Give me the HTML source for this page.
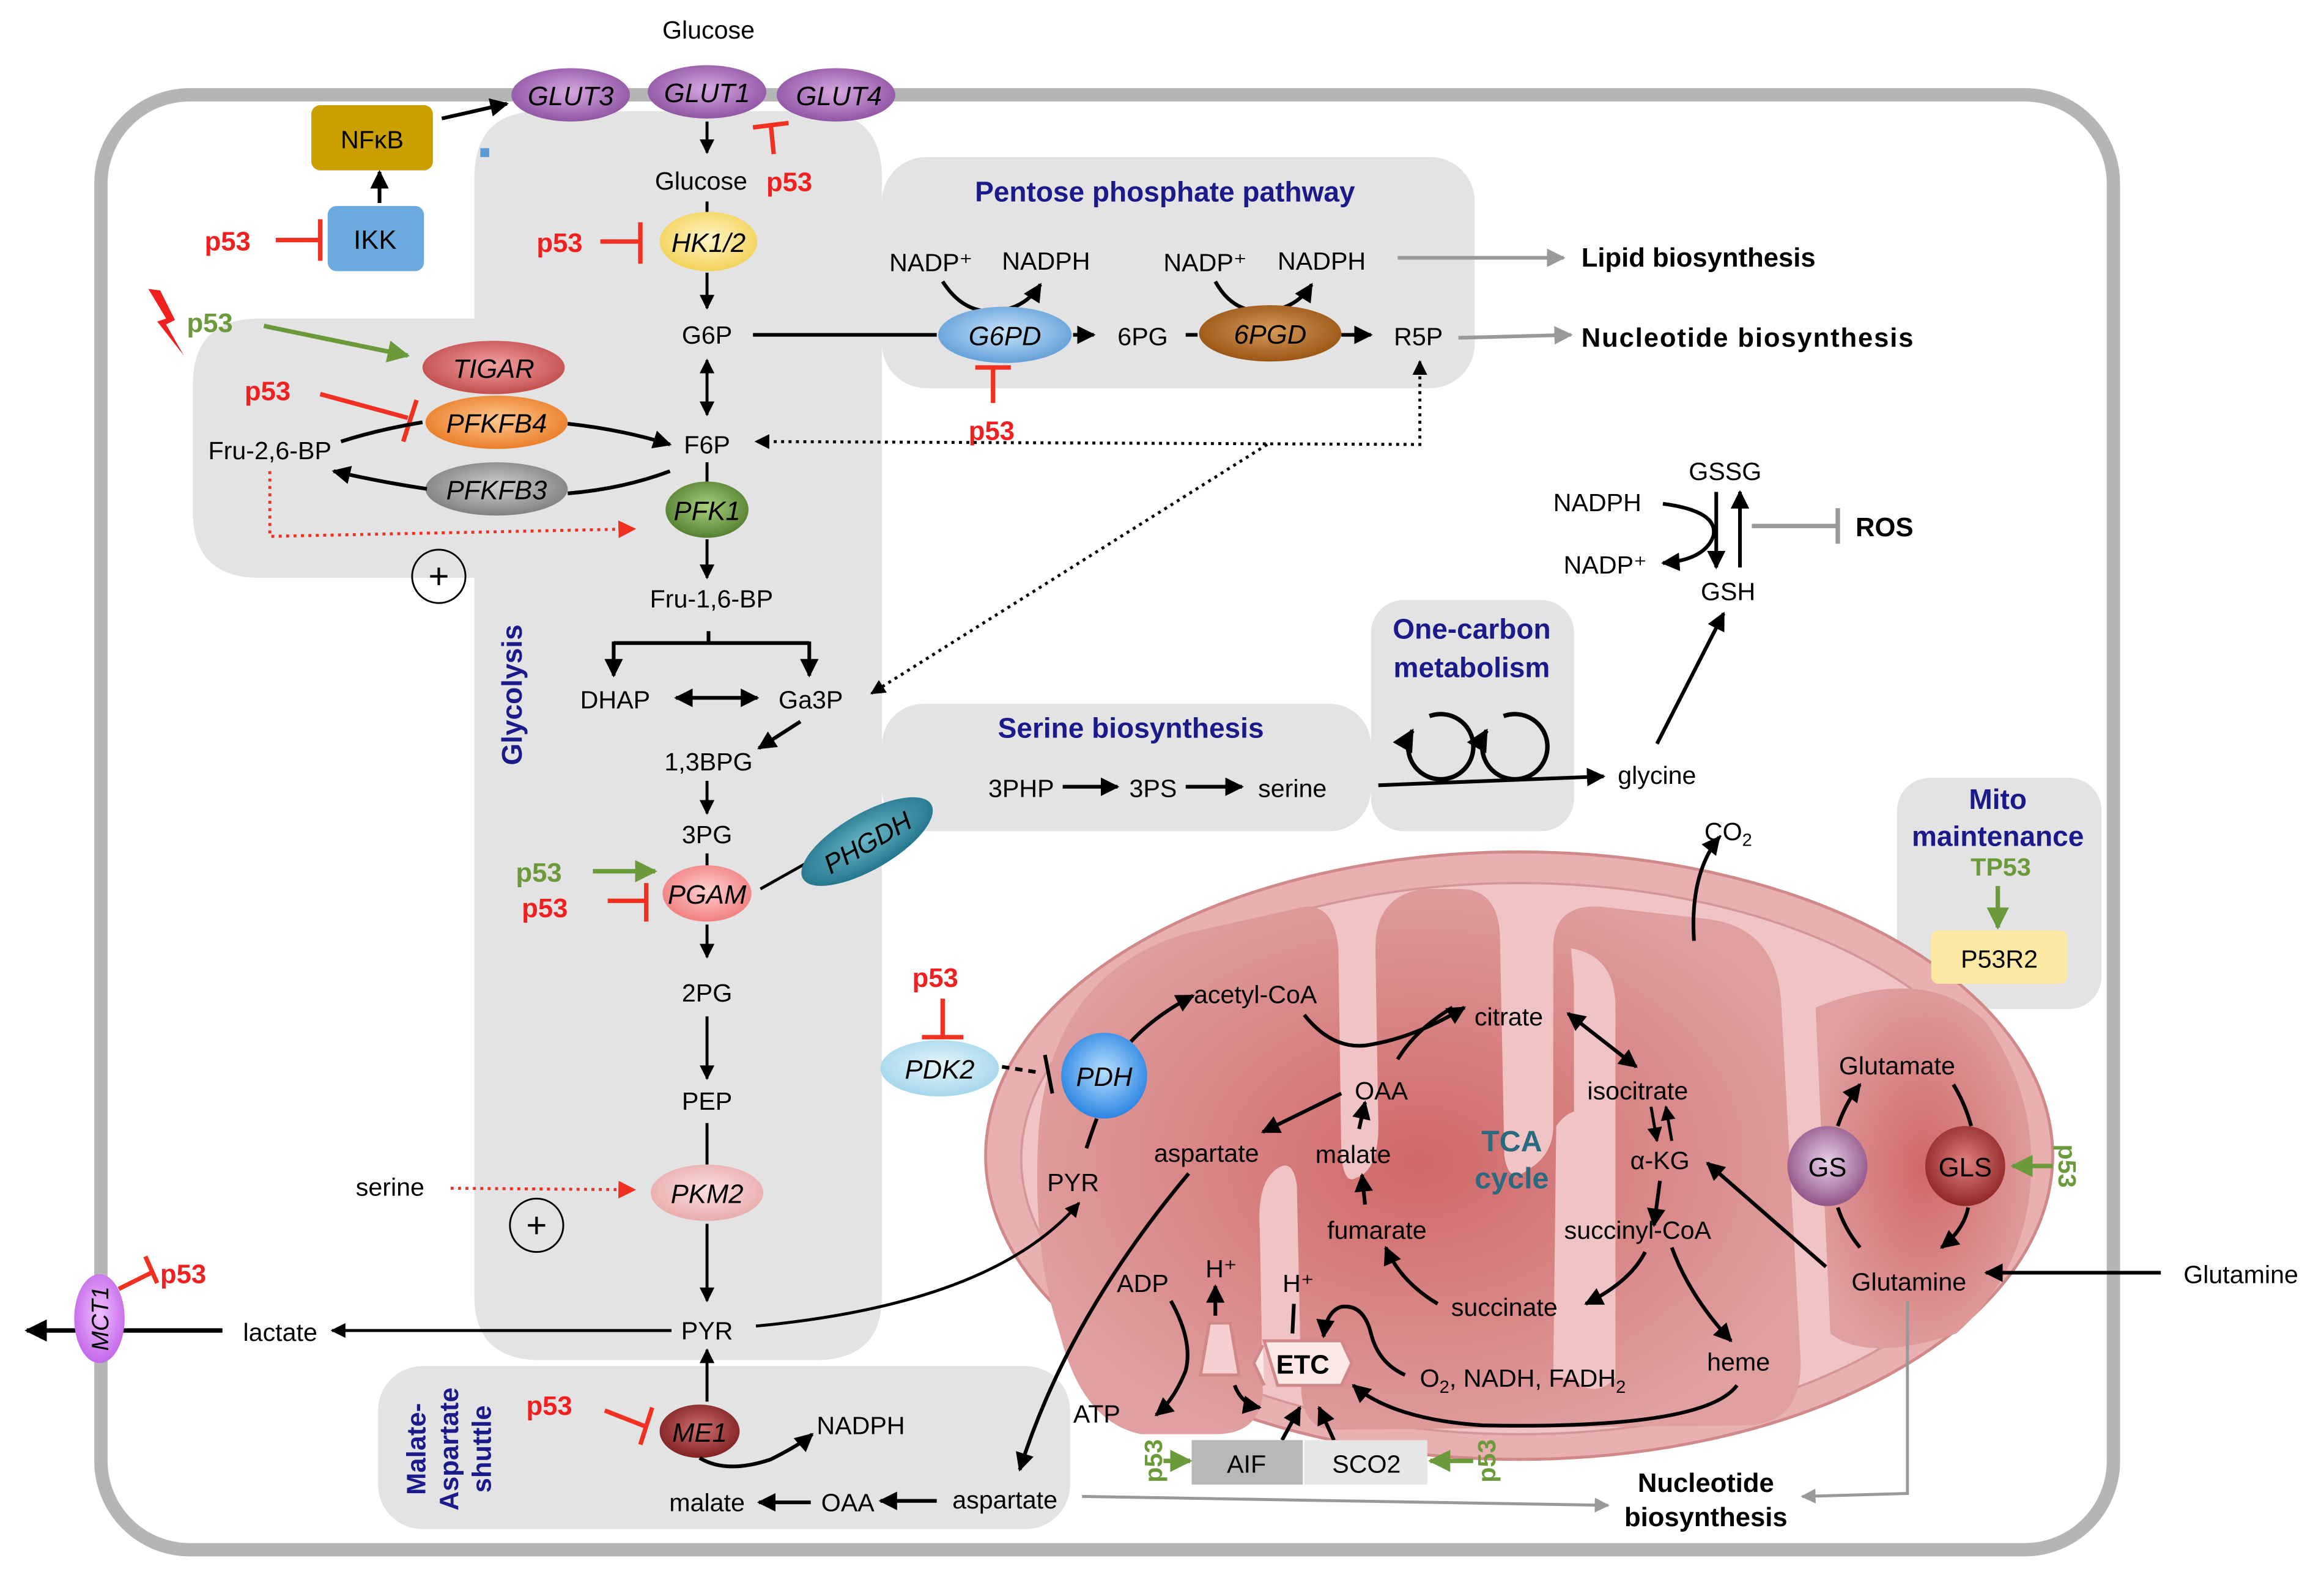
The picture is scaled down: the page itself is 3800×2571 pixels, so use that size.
<!DOCTYPE html>
<html><head><meta charset="utf-8"><style>
html,body{margin:0;padding:0;background:#fff}
svg{display:block}
text{font-family:"Liberation Sans",sans-serif}
</style></head><body>
<svg width="3800" height="2571" viewBox="0 0 1568 1061" xmlns="http://www.w3.org/2000/svg">
<defs>
<marker id="ab" viewBox="0 0 10 10" refX="9" refY="5" markerWidth="5" markerHeight="5" orient="auto-start-reverse"><path d="M0,0L10,5L0,10z" fill="#000"/></marker>
<marker id="ag" viewBox="0 0 10 10" refX="9" refY="5" markerWidth="5" markerHeight="5" orient="auto-start-reverse"><path d="M0,0L10,5L0,10z" fill="#999"/></marker>
<marker id="agr" viewBox="0 0 10 10" refX="9" refY="5" markerWidth="5" markerHeight="5" orient="auto"><path d="M0,0L10,5L0,10z" fill="#6a9a3a"/></marker>
<marker id="ar" viewBox="0 0 10 10" refX="9" refY="5" markerWidth="6" markerHeight="6" orient="auto"><path d="M0,0L10,5L0,10z" fill="#f03020"/></marker>
<radialGradient id="gP" cx="50%" cy="45%" r="60%"><stop offset="0" stop-color="#d6a8e0"/><stop offset="1" stop-color="#8a4e9e"/></radialGradient>
<radialGradient id="gY" cx="50%" cy="45%" r="60%"><stop offset="0" stop-color="#fff6c8"/><stop offset="1" stop-color="#f2cf50"/></radialGradient>
<radialGradient id="gB" cx="50%" cy="45%" r="60%"><stop offset="0" stop-color="#c8e4fa"/><stop offset="1" stop-color="#5b9ad6"/></radialGradient>
<radialGradient id="gBr" cx="50%" cy="45%" r="60%"><stop offset="0" stop-color="#d89a5a"/><stop offset="1" stop-color="#95500f"/></radialGradient>
<radialGradient id="gT" cx="50%" cy="45%" r="60%"><stop offset="0" stop-color="#f0a0a0"/><stop offset="1" stop-color="#c04848"/></radialGradient>
<radialGradient id="gO" cx="50%" cy="45%" r="60%"><stop offset="0" stop-color="#ffc890"/><stop offset="1" stop-color="#e87820"/></radialGradient>
<radialGradient id="gGr" cx="50%" cy="45%" r="60%"><stop offset="0" stop-color="#d0d0d0"/><stop offset="1" stop-color="#7a7a7a"/></radialGradient>
<radialGradient id="gG" cx="50%" cy="45%" r="60%"><stop offset="0" stop-color="#a8d080"/><stop offset="1" stop-color="#4e7a2a"/></radialGradient>
<radialGradient id="gPk" cx="50%" cy="45%" r="60%"><stop offset="0" stop-color="#ffd0d0"/><stop offset="1" stop-color="#f07878"/></radialGradient>
<radialGradient id="gPk2" cx="50%" cy="45%" r="60%"><stop offset="0" stop-color="#fbe0e0"/><stop offset="1" stop-color="#e8a8a8"/></radialGradient>
<radialGradient id="gTe" cx="50%" cy="45%" r="60%"><stop offset="0" stop-color="#6ab8c8"/><stop offset="1" stop-color="#1e7088"/></radialGradient>
<radialGradient id="gLB" cx="50%" cy="45%" r="60%"><stop offset="0" stop-color="#e8f6fc"/><stop offset="1" stop-color="#9ed4ea"/></radialGradient>
<radialGradient id="gPDH" cx="50%" cy="45%" r="60%"><stop offset="0" stop-color="#b8e0ff"/><stop offset="1" stop-color="#1f7de0"/></radialGradient>
<radialGradient id="gGS" cx="50%" cy="45%" r="60%"><stop offset="0" stop-color="#e8d0e8"/><stop offset="1" stop-color="#8a4a80"/></radialGradient>
<radialGradient id="gGLS" cx="50%" cy="45%" r="60%"><stop offset="0" stop-color="#e08080"/><stop offset="1" stop-color="#8a2020"/></radialGradient>
<radialGradient id="gME" cx="50%" cy="45%" r="60%"><stop offset="0" stop-color="#d07070"/><stop offset="1" stop-color="#7a1c1c"/></radialGradient>
<radialGradient id="gMCT" cx="50%" cy="45%" r="60%"><stop offset="0" stop-color="#f0c0ff"/><stop offset="1" stop-color="#c060e8"/></radialGradient>
<radialGradient id="gMito" cx="50%" cy="50%" r="55%"><stop offset="0" stop-color="#d06868"/><stop offset="1" stop-color="#e0a0a0"/></radialGradient>
</defs>

<!-- cell -->
<rect x="68" y="64" width="1358" height="982" rx="60" fill="none" stroke="#b5b5b5" stroke-width="9"/>

<!-- panels -->
<path d="M320,120 Q320,75 365,75 L550,75 Q595,75 595,120 L595,875 Q595,918 550,918 L365,918 Q320,918 320,875 Z" fill="#e3e3e3"/>
<path d="M175,215 L320,215 L320,390 L175,390 Q130,390 130,345 L130,260 Q130,215 175,215 Z" fill="#e3e3e3"/>
<rect x="595" y="106" width="400" height="156" rx="30" fill="#e3e3e3"/>
<rect x="595" y="475" width="330" height="86" rx="28" fill="#e3e3e3"/>
<rect x="925" y="405" width="137" height="156" rx="22" fill="#e3e3e3"/>
<rect x="1280" y="525" width="138" height="156" rx="22" fill="#e3e3e3"/>
<rect x="255" y="922" width="467" height="110" rx="30" fill="#e3e3e3"/>

<!-- mitochondrion -->
<ellipse cx="1025" cy="780" rx="360" ry="205" fill="#e8b0b0" stroke="#d08888" stroke-width="2"/>
<ellipse cx="1025" cy="782" rx="336" ry="186" fill="#f0c4c4" stroke="#d49696" stroke-width="1.5"/>
<path d="M700,780 Q702,660 800,630 L880,612 Q900,610 903,640 L905,780 Q907,800 915,795 Q930,790 930,760 L928,640 Q928,605 960,600 L985,600 Q1010,600 1012,630 L1015,780 Q1018,800 1030,790 Q1048,780 1048,760 L1048,640 Q1048,610 1080,612 L1150,620 Q1200,625 1202,680 L1215,920 Q1215,960 1180,962 L900,965 Q880,965 878,940 L875,800 Q872,780 860,790 Q848,800 850,830 L852,940 Q850,968 820,968 L770,968 Q730,960 715,900 Q698,850 700,780 Z" fill="url(#gMito)"/>
<path d="M1060,640 Q1090,645 1090,680 L1090,930 Q1075,945 1062,930 L1062,665 Z" fill="#f0c4c4"/>
<path d="M1225,680 Q1300,650 1340,690 Q1375,740 1370,800 Q1365,860 1320,900 Q1260,920 1235,900 Z" fill="url(#gMito)"/>
<path d="M1050,760 Q1065,740 1078,760 L1080,930 L1048,930 Z" fill="#f0c4c4"/>

<!-- ====== Glucose / GLUT ====== -->
<text x="478" y="26" font-size="17" text-anchor="middle">Glucose</text>
<ellipse cx="385" cy="64" rx="40" ry="18" fill="url(#gP)"/><text x="385" y="71" font-size="18" font-style="italic" text-anchor="middle">GLUT3</text>
<ellipse cx="477" cy="62" rx="40" ry="18" fill="url(#gP)"/><text x="477" y="69" font-size="18" font-style="italic" text-anchor="middle">GLUT1</text>
<ellipse cx="564" cy="64" rx="40" ry="18" fill="url(#gP)"/><text x="566" y="71" font-size="18" font-style="italic" text-anchor="middle">GLUT4</text>
<line x1="477" y1="82" x2="477" y2="103" stroke="#000" stroke-width="2" marker-end="url(#ab)"/>
<path d="M522,104 L520,84 M508,86 L532,83" stroke="#f03020" stroke-width="3" fill="none"/>
<text x="517" y="129" font-size="18" font-weight="bold" fill="#f02020">p53</text>
<text x="473" y="128" font-size="17" text-anchor="middle">Glucose</text>
<line x1="477" y1="136" x2="477" y2="146" stroke="#000" stroke-width="2"/>

<!-- NFkB / IKK -->
<rect x="210" y="71" width="82" height="44" rx="6" fill="#c9a000"/><text x="251" y="100" font-size="17" text-anchor="middle">NFκB</text>
<line x1="298" y1="80" x2="342" y2="70" stroke="#000" stroke-width="2.5" marker-end="url(#ab)"/>
<rect x="324" y="100" width="6" height="6" fill="#5b9ad6"/>
<rect x="221" y="139" width="65" height="44" rx="6" fill="#6aaade"/><text x="253" y="168" font-size="18" text-anchor="middle">IKK</text>
<line x1="256" y1="137" x2="256" y2="116" stroke="#000" stroke-width="2.5" marker-end="url(#ab)"/>
<text x="138" y="169" font-size="18" font-weight="bold" fill="#f02020">p53</text>
<path d="M186,162 L216,162 M216,148 L216,176" stroke="#f03020" stroke-width="3" fill="none"/>

<!-- HK -->
<text x="362" y="170" font-size="18" font-weight="bold" fill="#f02020">p53</text>
<path d="M405,163 L432,163 M432,150 L432,178" stroke="#f03020" stroke-width="3" fill="none"/>
<ellipse cx="478" cy="163" rx="33" ry="20" fill="url(#gY)"/><text x="478" y="170" font-size="18" font-style="italic" text-anchor="middle">HK1/2</text>
<line x1="477" y1="184" x2="477" y2="208" stroke="#000" stroke-width="2" marker-end="url(#ab)"/>
<text x="477" y="232" font-size="17" text-anchor="middle">G6P</text>
<line x1="477" y1="243" x2="477" y2="280" stroke="#000" stroke-width="2" marker-end="url(#ab)" marker-start="url(#ab)"/>
<text x="477" y="306" font-size="17" text-anchor="middle">F6P</text>

<!-- TIGAR etc -->
<path d="M100,195 L112,215 L106,217 L124,240 L112,219 L118,216 L108,196 Z" fill="#f02020"/>
<text x="126" y="224" font-size="18" font-weight="bold" fill="#6a9a3a">p53</text>
<line x1="178" y1="220" x2="275" y2="240" stroke="#6a9a3a" stroke-width="3" marker-end="url(#agr)"/>
<ellipse cx="333" cy="248" rx="48" ry="18" fill="url(#gT)"/><text x="333" y="255" font-size="18" font-style="italic" text-anchor="middle">TIGAR</text>
<text x="165" y="270" font-size="18" font-weight="bold" fill="#f02020">p53</text>
<path d="M216,266 L275,282 M281,270 L272,298" stroke="#f03020" stroke-width="3" fill="none"/>
<ellipse cx="335" cy="285" rx="48" ry="18" fill="url(#gO)"/><text x="335" y="292" font-size="18" font-style="italic" text-anchor="middle">PFKFB4</text>
<ellipse cx="335" cy="330" rx="48" ry="18" fill="url(#gGr)"/><text x="335" y="337" font-size="18" font-style="italic" text-anchor="middle">PFKFB3</text>
<text x="182" y="310" font-size="17" text-anchor="middle">Fru-2,6-BP</text>
<path d="M230,298 Q255,290 285,285" stroke="#000" stroke-width="2.5" fill="none"/>
<path d="M383,286 Q420,290 452,300" stroke="#000" stroke-width="2.5" fill="none" marker-end="url(#ab)"/>
<path d="M452,318 Q420,330 383,333" stroke="#000" stroke-width="2.5" fill="none"/>
<path d="M288,330 Q255,325 225,318" stroke="#000" stroke-width="2.5" fill="none" marker-end="url(#ab)"/>
<path d="M182,318 L182,362 L428,357" stroke="#f03020" stroke-width="2" stroke-dasharray="2,3" fill="none" marker-end="url(#ar)"/>
<circle cx="296" cy="389" r="18" fill="none" stroke="#000" stroke-width="1.2"/><text x="296" y="397" font-size="24" text-anchor="middle">+</text>
<line x1="477" y1="312" x2="477" y2="326" stroke="#000" stroke-width="2"/>
<ellipse cx="477" cy="344" rx="28" ry="19" fill="url(#gG)"/><text x="477" y="351" font-size="18" font-style="italic" text-anchor="middle">PFK1</text>
<line x1="477" y1="364" x2="477" y2="390" stroke="#000" stroke-width="2" marker-end="url(#ab)"/>
<text x="480" y="410" font-size="17" text-anchor="middle">Fru-1,6-BP</text>
<line x1="478" y1="426" x2="478" y2="434" stroke="#000" stroke-width="2.5"/>
<path d="M414,434 L546,434" stroke="#000" stroke-width="2.5" fill="none"/>
<line x1="414" y1="433" x2="414" y2="456" stroke="#000" stroke-width="2.5" marker-end="url(#ab)"/>
<line x1="546" y1="433" x2="546" y2="456" stroke="#000" stroke-width="2.5" marker-end="url(#ab)"/>
<text x="415" y="478" font-size="17" text-anchor="middle">DHAP</text>
<text x="547" y="478" font-size="17" text-anchor="middle">Ga3P</text>
<line x1="456" y1="471" x2="511" y2="471" stroke="#000" stroke-width="2.5" marker-start="url(#ab)" marker-end="url(#ab)"/>
<text x="343" y="460" font-size="19" font-weight="bold" fill="#1a1a8a" transform="rotate(-90 352 460)" text-anchor="middle">Glycolysis</text>
<line x1="540" y1="487" x2="512" y2="505" stroke="#000" stroke-width="2.5" marker-end="url(#ab)"/>
<text x="478" y="520" font-size="17" text-anchor="middle">1,3BPG</text>
<line x1="477" y1="527" x2="477" y2="549" stroke="#000" stroke-width="2" marker-end="url(#ab)"/>
<text x="477" y="569" font-size="17" text-anchor="middle">3PG</text>
<line x1="477" y1="576" x2="477" y2="586" stroke="#000" stroke-width="2"/>
<text x="348" y="595" font-size="18" font-weight="bold" fill="#6a9a3a">p53</text>
<line x1="400" y1="588" x2="442" y2="588" stroke="#6a9a3a" stroke-width="3" marker-end="url(#agr)"/>
<text x="352" y="619" font-size="18" font-weight="bold" fill="#f02020">p53</text>
<path d="M410,608 L436,608 M436,596 L436,622" stroke="#f03020" stroke-width="3" fill="none"/>
<ellipse cx="477" cy="603" rx="30" ry="19" fill="url(#gPk)"/><text x="477" y="610" font-size="18" font-style="italic" text-anchor="middle">PGAM</text>
<line x1="477" y1="624" x2="477" y2="646" stroke="#000" stroke-width="2" marker-end="url(#ab)"/>
<text x="477" y="676" font-size="17" text-anchor="middle">2PG</text>
<line x1="477" y1="686" x2="477" y2="728" stroke="#000" stroke-width="2" marker-end="url(#ab)"/>
<text x="477" y="749" font-size="17" text-anchor="middle">PEP</text>
<line x1="477" y1="758" x2="477" y2="786" stroke="#000" stroke-width="2"/>
<text x="240" y="807" font-size="17">serine</text>
<line x1="304" y1="802" x2="428" y2="803" stroke="#f03020" stroke-width="2" stroke-dasharray="2,3" marker-end="url(#ar)"/>
<ellipse cx="477" cy="805" rx="38" ry="19" fill="url(#gPk2)"/><text x="477" y="812" font-size="18" font-style="italic" text-anchor="middle">PKM2</text>
<circle cx="362" cy="827" r="18" fill="none" stroke="#000" stroke-width="1.2"/><text x="362" y="835" font-size="24" text-anchor="middle">+</text>
<line x1="477" y1="826" x2="477" y2="878" stroke="#000" stroke-width="2" marker-end="url(#ab)"/>
<text x="477" y="904" font-size="17" text-anchor="middle">PYR</text>
<line x1="453" y1="898" x2="224" y2="898" stroke="#000" stroke-width="2" marker-end="url(#ab)"/>
<text x="189" y="905" font-size="17" text-anchor="middle">lactate</text>
<line x1="150" y1="898" x2="18" y2="898" stroke="#000" stroke-width="3" marker-end="url(#ab)"/>
<ellipse cx="67" cy="890" rx="17" ry="30" fill="url(#gMCT)"/><text x="67" y="890" font-size="16" font-style="italic" text-anchor="middle" transform="rotate(-90 67 890)" dy="6">MCT1</text>
<path d="M80,870 L104,858 M98,848 L106,866" stroke="#f03020" stroke-width="3" fill="none"/>
<text x="108" y="866" font-size="18" font-weight="bold" fill="#f02020">p53</text>
<path d="M510,895 Q670,880 728,812" stroke="#000" stroke-width="2" fill="none" marker-end="url(#ab)"/>
<line x1="477" y1="946" x2="477" y2="911" stroke="#000" stroke-width="2" marker-end="url(#ab)"/>

<!-- Malate-Aspartate -->
<text x="287" y="978" font-size="18" font-weight="bold" fill="#1a1a8a" text-anchor="middle" transform="rotate(-90 287 978)">Malate-</text>
<text x="309" y="978" font-size="18" font-weight="bold" fill="#1a1a8a" text-anchor="middle" transform="rotate(-90 309 978)">Aspartate</text>
<text x="331" y="978" font-size="18" font-weight="bold" fill="#1a1a8a" text-anchor="middle" transform="rotate(-90 331 978)">shuttle</text>
<text x="355" y="955" font-size="18" font-weight="bold" fill="#f02020">p53</text>
<path d="M408,952 L436,963 M440,950 L432,975" stroke="#f03020" stroke-width="3" fill="none"/>
<ellipse cx="472" cy="966" rx="27" ry="18" fill="url(#gME)"/><text x="472" y="973" font-size="18" font-style="italic" text-anchor="middle">ME1</text>
<path d="M472,984 Q490,995 520,985 Q540,975 548,968" stroke="#000" stroke-width="2.5" fill="none" marker-end="url(#ab)"/>
<text x="551" y="968" font-size="17">NADPH</text>
<text x="477" y="1020" font-size="17" text-anchor="middle">malate</text>
<line x1="547" y1="1014" x2="512" y2="1014" stroke="#000" stroke-width="2.5" marker-end="url(#ab)"/>
<text x="572" y="1020" font-size="17" text-anchor="middle">OAA</text>
<line x1="632" y1="1013" x2="594" y2="1013" stroke="#000" stroke-width="2.5" marker-end="url(#ab)"/>
<text x="678" y="1018" font-size="17" text-anchor="middle">aspartate</text>
<line x1="730" y1="1010" x2="1085" y2="1016" stroke="#999" stroke-width="2" marker-end="url(#ag)"/>

<!-- PPP -->
<text x="786" y="136" font-size="19" font-weight="bold" fill="#1a1a8a" text-anchor="middle">Pentose phosphate pathway</text>
<line x1="508" y1="226" x2="632" y2="226" stroke="#000" stroke-width="2.5"/>
<text x="600" y="183" font-size="17">NADP⁺</text><text x="676" y="182" font-size="17">NADPH</text>
<path d="M636,190 Q650,212 672,210 Q692,208 702,192" stroke="#000" stroke-width="2.5" fill="none" marker-end="url(#ab)"/>
<ellipse cx="678" cy="226" rx="45" ry="19" fill="url(#gB)"/><text x="678" y="233" font-size="18" font-style="italic" text-anchor="middle">G6PD</text>
<line x1="724" y1="226" x2="738" y2="226" stroke="#000" stroke-width="2.5" marker-end="url(#ab)"/>
<path d="M670,272 L670,248 M658,248 L682,248" stroke="#f03020" stroke-width="3" fill="none"/>
<text x="669" y="297" font-size="18" font-weight="bold" fill="#f02020" text-anchor="middle">p53</text>
<text x="771" y="233" font-size="17" text-anchor="middle">6PG</text>
<line x1="800" y1="226" x2="808" y2="226" stroke="#000" stroke-width="2.5"/>
<text x="785" y="183" font-size="17">NADP⁺</text><text x="862" y="182" font-size="17">NADPH</text>
<path d="M820,190 Q832,212 855,210 Q875,208 885,192" stroke="#000" stroke-width="2.5" fill="none" marker-end="url(#ab)"/>
<ellipse cx="857" cy="225" rx="48" ry="19" fill="url(#gBr)"/><text x="857" y="232" font-size="18" font-style="italic" text-anchor="middle">6PGD</text>
<line x1="905" y1="226" x2="925" y2="226" stroke="#000" stroke-width="2.5" marker-end="url(#ab)"/>
<text x="957" y="233" font-size="17" text-anchor="middle">R5P</text>
<line x1="943" y1="174" x2="1055" y2="174" stroke="#999" stroke-width="2.5" marker-end="url(#ag)"/>
<text x="1067" y="180" font-size="18" font-weight="bold">Lipid biosynthesis</text>
<line x1="984" y1="228" x2="1060" y2="226" stroke="#999" stroke-width="2.5" marker-end="url(#ag)"/>
<text x="1067" y="234" font-size="18" font-weight="bold" textLength="224">Nucleotide biosynthesis</text>
<path d="M958,244 L958,300 L510,298" stroke="#000" stroke-width="2" stroke-dasharray="2,3" fill="none" marker-end="url(#ab)" marker-start="url(#ab)"/>
<line x1="855" y1="300" x2="588" y2="468" stroke="#000" stroke-width="2" stroke-dasharray="2,3" marker-end="url(#ab)"/>

<!-- Serine -->
<text x="763" y="498" font-size="19" font-weight="bold" fill="#1a1a8a" text-anchor="middle">Serine biosynthesis</text>
<line x1="513" y1="600" x2="545" y2="582" stroke="#000" stroke-width="2"/>
<ellipse cx="585" cy="568" rx="50" ry="19" fill="url(#gTe)" transform="rotate(-30 585 568)"/>
<text x="585" y="575" font-size="18" font-style="italic" text-anchor="middle" transform="rotate(-30 585 568)">PHGDH</text>
<text x="689" y="538" font-size="17" text-anchor="middle">3PHP</text>
<line x1="717" y1="531" x2="754" y2="531" stroke="#000" stroke-width="2.5" marker-end="url(#ab)"/>
<text x="778" y="538" font-size="17" text-anchor="middle">3PS</text>
<line x1="800" y1="531" x2="838" y2="531" stroke="#000" stroke-width="2.5" marker-end="url(#ab)"/>
<text x="872" y="538" font-size="17" text-anchor="middle">serine</text>
<text x="993" y="431" font-size="19" font-weight="bold" fill="#1a1a8a" text-anchor="middle">One-carbon</text>
<text x="993" y="457" font-size="19" font-weight="bold" fill="#1a1a8a" text-anchor="middle">metabolism</text>
<path d="M964.5,483.3 A22,22 0 1 1 953,493" fill="none" stroke="#000" stroke-width="3" marker-end="url(#ab)"/>
<path d="M1014.5,483.3 A22,22 0 1 1 1003,493" fill="none" stroke="#000" stroke-width="3" marker-end="url(#ab)"/>
<line x1="930" y1="530" x2="1082" y2="524" stroke="#000" stroke-width="2.5" marker-end="url(#ab)"/>
<text x="1118" y="529" font-size="17" text-anchor="middle">glycine</text>
<line x1="1118" y1="502" x2="1163" y2="414" stroke="#000" stroke-width="2.5" marker-end="url(#ab)"/>

<!-- GSH -->
<text x="1164" y="324" font-size="17" text-anchor="middle">GSSG</text>
<text x="1166" y="405" font-size="17" text-anchor="middle">GSH</text>
<line x1="1158" y1="332" x2="1158" y2="383" stroke="#000" stroke-width="2.5" marker-end="url(#ab)"/>
<line x1="1174" y1="383" x2="1174" y2="332" stroke="#000" stroke-width="2.5" marker-end="url(#ab)"/>
<text x="1048" y="345" font-size="17">NADPH</text>
<text x="1055" y="387" font-size="17">NADP⁺</text>
<path d="M1122,340 Q1160,345 1156,362 Q1150,378 1122,380" stroke="#000" stroke-width="2.5" fill="none" marker-end="url(#ab)"/>
<path d="M1182,355 L1240,355 M1240,343 L1240,367" stroke="#999" stroke-width="3" fill="none"/>
<text x="1252" y="362" font-size="18" font-weight="bold">ROS</text>

<!-- Mito maintenance -->
<text x="1348" y="546" font-size="19" font-weight="bold" fill="#1a1a8a" text-anchor="middle">Mito</text>
<text x="1348" y="571" font-size="19" font-weight="bold" fill="#1a1a8a" text-anchor="middle">maintenance</text>
<text x="1350" y="591" font-size="17" font-weight="bold" fill="#6a9a3a" text-anchor="middle">TP53</text>
<line x1="1348" y1="598" x2="1348" y2="626" stroke="#6a9a3a" stroke-width="3" marker-end="url(#agr)"/>
<rect x="1303" y="628" width="92" height="36" rx="5" fill="#fde9a4"/>
<text x="1349" y="653" font-size="17" text-anchor="middle">P53R2</text>

<!-- CO2 -->
<path d="M1143,635 Q1140,590 1160,565" stroke="#000" stroke-width="2.5" fill="none" marker-end="url(#ab)"/>
<text x="1150" y="567" font-size="17">CO<tspan font-size="12" dy="4">2</tspan></text>

<!-- PDK2/PDH -->
<text x="631" y="666" font-size="18" font-weight="bold" fill="#f02020" text-anchor="middle">p53</text>
<path d="M636,674 L636,700 M622,700 L650,700" stroke="#f03020" stroke-width="3" fill="none"/>
<ellipse cx="634" cy="721" rx="40" ry="19" fill="url(#gLB)"/><text x="634" y="728" font-size="18" font-style="italic" text-anchor="middle">PDK2</text>
<path d="M676,720 L702,724" stroke="#000" stroke-width="2.5" stroke-dasharray="5,4"/>
<line x1="705" y1="712" x2="710" y2="738" stroke="#000" stroke-width="2.5"/>
<circle cx="745" cy="726" r="29" fill="url(#gPDH)"/><text x="745" y="733" font-size="18" font-style="italic" text-anchor="middle">PDH</text>
<path d="M763,703 Q780,685 805,672" stroke="#000" stroke-width="2.5" fill="none" marker-end="url(#ab)"/>
<path d="M733,775 Q738,760 740,755" stroke="#000" stroke-width="2.5" fill="none"/>
<text x="724" y="804" font-size="17" text-anchor="middle">PYR</text>

<!-- TCA -->
<text x="847" y="677" font-size="17" text-anchor="middle">acetyl-CoA</text>
<text x="1018" y="692" font-size="17" text-anchor="middle">citrate</text>
<path d="M880,685 Q900,710 925,705 Q955,700 988,680" stroke="#000" stroke-width="2.5" fill="none" marker-end="url(#ab)"/>
<path d="M943,715 Q955,695 980,680" stroke="#000" stroke-width="2.5" fill="none"/>
<line x1="1058" y1="684" x2="1104" y2="720" stroke="#000" stroke-width="2.5" marker-start="url(#ab)" marker-end="url(#ab)"/>
<text x="1105" y="742" font-size="17" text-anchor="middle">isocitrate</text>
<line x1="1114" y1="747" x2="1118" y2="770" stroke="#000" stroke-width="2" marker-end="url(#ab)"/>
<line x1="1128" y1="770" x2="1124" y2="747" stroke="#000" stroke-width="2" marker-end="url(#ab)"/>
<text x="1120" y="789" font-size="17" text-anchor="middle">α-KG</text>
<line x1="1120" y1="797" x2="1116" y2="827" stroke="#000" stroke-width="2.5" marker-end="url(#ab)"/>
<text x="1105" y="836" font-size="17" text-anchor="middle">succinyl-CoA</text>
<path d="M1110,845 Q1100,865 1070,880" stroke="#000" stroke-width="2.5" fill="none" marker-end="url(#ab)"/>
<path d="M1128,842 Q1140,875 1168,905" stroke="#000" stroke-width="2.5" fill="none" marker-end="url(#ab)"/>
<text x="1173" y="925" font-size="17" text-anchor="middle">heme</text>
<text x="1015" y="888" font-size="17" text-anchor="middle">succinate</text>
<path d="M970,880 Q945,865 935,842" stroke="#000" stroke-width="2.5" fill="none" marker-end="url(#ab)"/>
<text x="929" y="836" font-size="17" text-anchor="middle">fumarate</text>
<line x1="921" y1="813" x2="919" y2="793" stroke="#000" stroke-width="2.5" marker-end="url(#ab)"/>
<text x="913" y="785" font-size="17" text-anchor="middle">malate</text>
<line x1="917" y1="762" x2="921" y2="744" stroke="#000" stroke-width="2.5" marker-end="url(#ab)"/>
<text x="932" y="742" font-size="17" text-anchor="middle">OAA</text>
<line x1="905" y1="738" x2="852" y2="764" stroke="#000" stroke-width="2.5" marker-end="url(#ab)"/>
<text x="814" y="784" font-size="17" text-anchor="middle">aspartate</text>
<path d="M802,792 Q720,890 688,992" stroke="#000" stroke-width="2.5" fill="none" marker-end="url(#ab)"/>
<text x="1020" y="777" font-size="20" font-weight="bold" fill="#2a6a80" text-anchor="middle">TCA</text>
<text x="1020" y="802" font-size="20" font-weight="bold" fill="#2a6a80" text-anchor="middle">cycle</text>

<!-- ETC -->
<text x="771" y="872" font-size="17" text-anchor="middle">ADP</text>
<path d="M790,878 Q805,905 800,925 Q792,945 780,955" stroke="#000" stroke-width="2.5" fill="none" marker-end="url(#ab)"/>
<text x="740" y="960" font-size="17" text-anchor="middle">ATP</text>
<path d="M810,928 L816,893 L830,893 L836,928 Z" fill="#f6d0d0" stroke="#d08888" stroke-width="2"/>
<line x1="820" y1="888" x2="820" y2="868" stroke="#000" stroke-width="2.5" marker-end="url(#ab)"/>
<text x="824" y="862" font-size="17" text-anchor="middle">H⁺</text>
<text x="876" y="872" font-size="17" text-anchor="middle">H⁺</text>
<line x1="873" y1="880" x2="872" y2="900" stroke="#000" stroke-width="2.5"/>
<path d="M853,905 L862,935 L905,935 L912,920 L905,905 Z" fill="#fde8e8" stroke="#d08888" stroke-width="2"/>
<path d="M852,908 L846,920 L853,935" fill="#fde8e8" stroke="#d08888" stroke-width="2"/>
<text x="879" y="927" font-size="18" font-weight="bold" text-anchor="middle">ETC</text>
<path d="M948,928 Q930,920 925,900 Q920,880 905,882 Q895,885 893,902" stroke="#000" stroke-width="2.5" fill="none" marker-end="url(#ab)"/>
<text x="958" y="936" font-size="17">O<tspan font-size="12" dy="4">2</tspan><tspan dy="-4">, NADH, FADH</tspan><tspan font-size="12" dy="4">2</tspan></text>
<path d="M1172,935 Q1150,965 1000,962 Q940,958 913,935" stroke="#000" stroke-width="2.5" fill="none" marker-end="url(#ab)"/>
<path d="M833,935 Q838,948 850,950" stroke="#000" stroke-width="2.5" fill="none" marker-end="url(#ab)"/>
<line x1="865" y1="972" x2="877" y2="950" stroke="#000" stroke-width="2.5" marker-end="url(#ab)"/>
<line x1="900" y1="972" x2="890" y2="950" stroke="#000" stroke-width="2.5" marker-end="url(#ab)"/>
<rect x="804" y="972" width="75" height="30" fill="#b8b8b8"/><text x="841" y="994" font-size="17" text-anchor="middle">AIF</text>
<rect x="880" y="972" width="83" height="30" fill="#e6e6e6"/><text x="922" y="994" font-size="17" text-anchor="middle">SCO2</text>
<text x="778" y="986" font-size="17" font-weight="bold" fill="#6a9a3a" text-anchor="middle" transform="rotate(-90 778 986)" dy="6">p53</text>
<line x1="785" y1="986" x2="803" y2="986" stroke="#6a9a3a" stroke-width="3" marker-end="url(#agr)"/>
<line x1="994" y1="986" x2="965" y2="986" stroke="#6a9a3a" stroke-width="3" marker-end="url(#agr)"/>
<text x="1003" y="986" font-size="17" font-weight="bold" fill="#6a9a3a" text-anchor="middle" transform="rotate(-90 1003 986)" dy="6">p53</text>

<!-- Glutamine -->
<text x="1280" y="725" font-size="17" text-anchor="middle">Glutamate</text>
<circle cx="1233" cy="787" r="27" fill="url(#gGS)"/><text x="1233" y="794" font-size="18" text-anchor="middle">GS</text>
<circle cx="1326" cy="787" r="27" fill="url(#gGLS)"/><text x="1326" y="794" font-size="18" text-anchor="middle">GLS</text>
<path d="M1240,760 Q1245,745 1255,732" stroke="#000" stroke-width="2.5" fill="none" marker-end="url(#ab)"/>
<path d="M1318,732 Q1326,745 1330,760" stroke="#000" stroke-width="2.5" fill="none"/>
<path d="M1240,815 Q1245,830 1255,842" stroke="#000" stroke-width="2.5" fill="none"/>
<path d="M1328,815 Q1325,830 1310,842" stroke="#000" stroke-width="2.5" fill="none" marker-end="url(#ab)"/>
<line x1="1385" y1="787" x2="1358" y2="787" stroke="#6a9a3a" stroke-width="3" marker-end="url(#agr)"/>
<text x="1395" y="787" font-size="17" font-weight="bold" fill="#6a9a3a" text-anchor="middle" transform="rotate(90 1395 787)" dy="6">p53</text>
<text x="1288" y="871" font-size="17" text-anchor="middle">Glutamine</text>
<line x1="1232" y1="855" x2="1152" y2="785" stroke="#000" stroke-width="2.5" marker-end="url(#ab)"/>
<line x1="1458" y1="859" x2="1340" y2="859" stroke="#000" stroke-width="2.5" marker-end="url(#ab)"/>
<text x="1512" y="866" font-size="17" text-anchor="middle">Glutamine</text>
<path d="M1287,878 L1287,1008 L1216,1010" stroke="#999" stroke-width="2" fill="none" marker-end="url(#ag)"/>
<text x="1151" y="1007" font-size="18" font-weight="bold" text-anchor="middle">Nucleotide</text>
<text x="1151" y="1030" font-size="18" font-weight="bold" text-anchor="middle">biosynthesis</text>
</svg>
</body></html>
